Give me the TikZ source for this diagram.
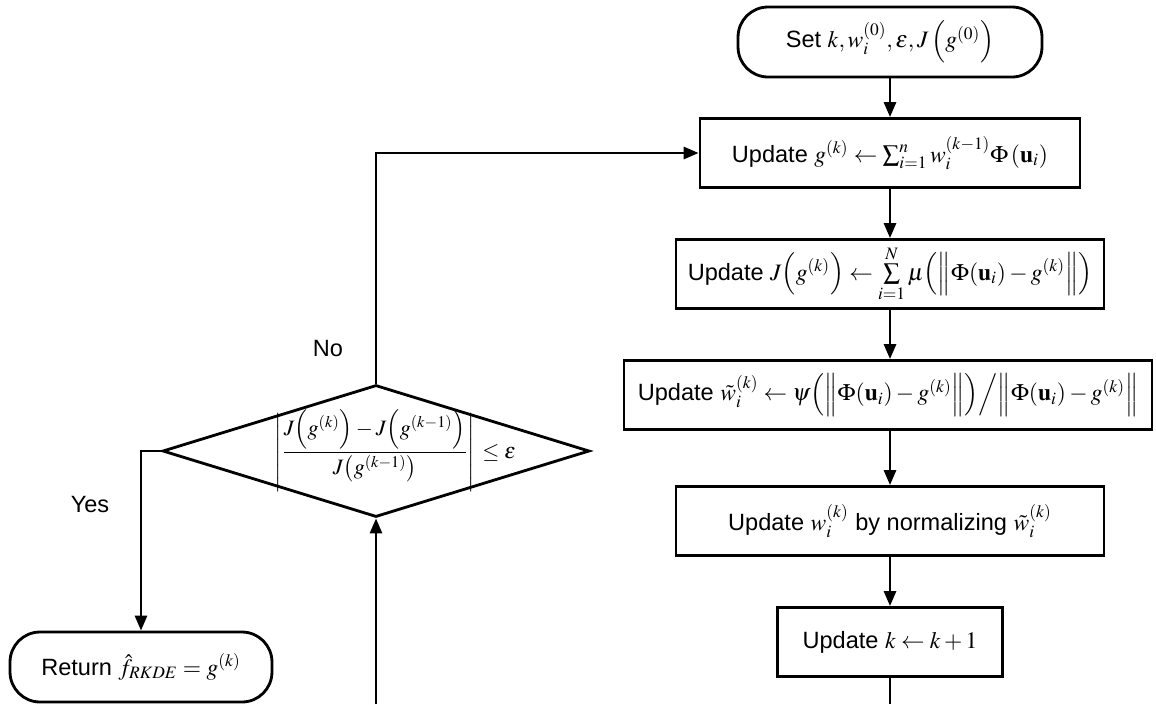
\documentclass[tikz,border=0pt]{standalone}
\usepackage{amsmath}
\usepackage{amssymb}
\usepackage{mathptmx}
\usepackage[no-math]{fontspec}
\setmainfont{Liberation Sans}
\usepackage{tikz}
\usetikzlibrary{positioning, arrows.meta}
\usetikzlibrary{shapes,shapes.geometric}
\tikzset{process box/.style={draw, rectangle, line width=1.6pt, minimum height=1.38cm, inner sep=2pt}}
\tikzset{terminal box/.style={draw, rectangle, rounded corners=0.6cm, line width=1.6pt, minimum height=1.4cm, inner sep=2pt}}
\tikzset{decision box/.style={draw, diamond, line width=1.6pt, minimum width=8.54cm, minimum height=2.64cm, inner sep=0pt}}

\begin{document}
\begin{tikzpicture}[x=0.02cm, y=-0.02cm, >={Triangle[length=0.3cm,width=0.24cm]}, line width=1.6pt, font=\fontsize{13.4}{16}\selectfont]
			\useasboundingbox (0,0) rectangle (1156,704);
			\node[terminal box, minimum width=6.08cm] (init) at (890,42) {Set $k, w_i^{(0)}, \varepsilon, J\left(g^{(0)}\right)$};
			\node[process box, minimum width=7.6cm] (updg) at (890,153) {Update $g^{(k)} \leftarrow \sum_{i=1}^{n} w_i^{(k-1)} \Phi\left(\mathbf{u}_i\right)$};
			\node[process box, minimum width=8.56cm] (updJ) at (890,274) {Update $J\!\left(g^{(k)}\right) \leftarrow \sum\limits_{i=1}^{N} \mu\!\left(\left\|\Phi\!\left(\mathbf{u}_i\right)-g^{(k)}\right\|\right)$};
			\node[process box, minimum width=10.56cm] (updw) at (888,395) {Update $\tilde{w}_i^{(k)} \leftarrow \psi\!\left(\left\|\Phi\!\left(\mathbf{u}_i\right)-g^{(k)}\right\|\right)\!\Big/\!\left\|\Phi\!\left(\mathbf{u}_i\right)-g^{(k)}\right\|$};
			\node[process box, minimum width=8.56cm] (norm) at (890,521) {Update $w_i^{(k)}$ by normalizing $\tilde{w}_i^{(k)}$};
			\node[process box, minimum width=4.5cm] (updk) at (890,642) {Update $k \leftarrow k+1$};
			\node[decision box] (dec) at (376,451) {};
			\node[font=\fontsize{12.5}{15}\selectfont] (crit) at (dec.center) {$\left|\dfrac{J\!\left(g^{(k)}\right)-J\!\left(g^{(k-1)}\right)}{J\!\left(g^{(k-1)}\right)}\right|\rlap{$\;\le\varepsilon$}$};
			\node[terminal box, minimum width=5.24cm] (ret) at (141,667) {Return $\hat{f}_{RKDE} = g^{(k)}$};
			\node (no) at (328,349) {No};
			\node (yes) at (90,505) {Yes};
			\coordinate (outk) at (890,704);
			\coordinate (ink) at (376,704);
			
			\draw[->] (init) -- (updg);
			\draw[->] (updg) -- (updJ);
			\draw[->] (updJ) -- (updw.north -| updJ.south);
			\draw[->] (updw.south -| norm.north) -- (norm);
			\draw[->] (norm) -- (updk);
			\draw (updk) -- (outk);
			\draw[->] (ink) -- (dec.south);
			\draw[->] (dec.north) |- (updg.west);
			\draw[->] (dec.west) -| (ret.north);
		\end{tikzpicture}
\end{document}
